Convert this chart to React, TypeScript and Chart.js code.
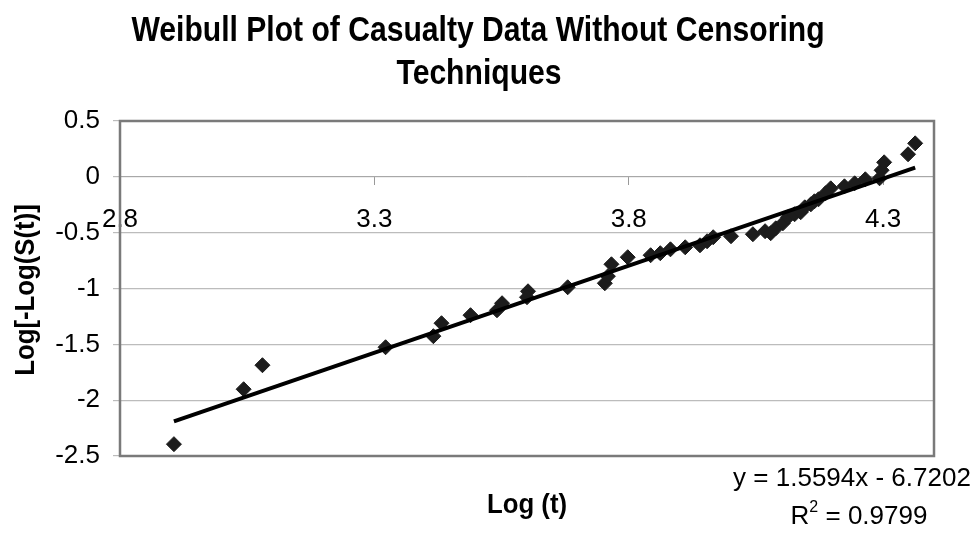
import React, { useEffect, useRef } from 'react';
import { Chart, registerables } from 'chart.js';

Chart.register(...registerables);

const titleLines = ['Weibull Plot of Casualty Data Without Censoring', 'Techniques'];
const xAxisTitle = 'Log (t)';
const yAxisTitle = 'Log[-Log(S(t)]';
const equationText = 'y = 1.5594x - 6.7202';
const r2Value = '0.9799';

const logT = [
  2.906, 3.043, 3.08, 3.322, 3.416, 3.432, 3.489, 3.541, 3.551, 3.602,
  3.6, 3.68, 3.753, 3.759, 3.766, 3.798, 3.843, 3.862, 3.882, 3.911,
  3.94, 3.954, 3.966, 4.001, 4.044, 4.068, 4.079, 4.089, 4.103, 4.113,
  4.126, 4.138, 4.146, 4.158, 4.165, 4.173, 4.187, 4.197, 4.224, 4.244,
  4.265, 4.293, 4.297, 4.302, 4.349, 4.363,
];
const logLogS = [
  -2.394, -1.902, -1.687, -1.526, -1.427, -1.311, -1.239, -1.195, -1.132, -1.025,
  -1.078, -0.989, -0.953, -0.89, -0.783, -0.72, -0.702, -0.684, -0.649, -0.631,
  -0.613, -0.577, -0.541, -0.532, -0.514, -0.487, -0.505, -0.461, -0.416, -0.362,
  -0.335, -0.317, -0.273, -0.246, -0.219, -0.201, -0.147, -0.103, -0.085, -0.058,
  -0.022, -0.013, 0.059, 0.13, 0.202, 0.3,
];
const trendX = [2.906, 4.363];
const trendY = [-2.19, 0.083];

const xTicks = [2.8, 3.3, 3.8, 4.3];
const yTicks = [0.5, 0, -0.5, -1, -1.5, -2, -2.5];

const FONT = '"Liberation Sans", Arial, Helvetica, sans-serif';

function drawCondensed(ctx: any, text: string, cx: number, baseline: number, sx: number) {
  ctx.save();
  ctx.translate(cx, baseline);
  ctx.scale(sx, 1);
  ctx.fillText(text, 0, 0);
  ctx.restore();
}

const textPlugin = {
  id: 'customTexts',
  beforeDatasetsDraw(chart: any) {
    const { ctx, chartArea } = chart;
    ctx.save();
    ctx.strokeStyle = '#7a7a7a';
    ctx.lineWidth = 2.5;
    ctx.strokeRect(chartArea.left, chartArea.top, chartArea.right - chartArea.left, chartArea.bottom - chartArea.top);
    ctx.restore();
  },
  afterDraw(chart: any) {
    const { ctx } = chart;
    ctx.save();
    ctx.fillStyle = '#000';
    ctx.textBaseline = 'alphabetic';
    ctx.textAlign = 'center';
    ctx.font = `bold 35px ${FONT}`;
    drawCondensed(ctx, titleLines[0], 478, 41, 0.86);
    drawCondensed(ctx, titleLines[1], 479, 84, 0.86);

    ctx.font = `bold 28px ${FONT}`;
    drawCondensed(ctx, xAxisTitle, 527, 513, 0.92);
    ctx.save();
    ctx.translate(34, 290);
    ctx.rotate(-Math.PI / 2);
    ctx.scale(0.92, 1);
    ctx.fillText(yAxisTitle, 0, 0);
    ctx.restore();

    ctx.font = `26px ${FONT}`;
    ctx.fillText(equationText, 852, 486);

    const partA = 'R';
    const partB = ` = ${r2Value}`;
    ctx.font = `26px ${FONT}`;
    const wA = ctx.measureText(partA).width;
    const wB = ctx.measureText(partB).width;
    ctx.font = `16px ${FONT}`;
    const wS = ctx.measureText('2').width;
    const total = wA + wS + wB;
    let x = 859 - total / 2;
    ctx.textAlign = 'left';
    ctx.font = `26px ${FONT}`;
    ctx.fillText(partA, x, 524);
    x += wA;
    ctx.font = `16px ${FONT}`;
    ctx.fillText('2', x, 512);
    x += wS;
    ctx.font = `26px ${FONT}`;
    ctx.fillText(partB, x, 524);
    ctx.restore();
  },
};

export default function App() {
  const canvasRef = useRef<HTMLCanvasElement | null>(null);

  useEffect(() => {
    if (!canvasRef.current) return;
    const points = logT.map((x, i) => ({ x, y: logLogS[i] }));
    const trend = trendX.map((x, i) => ({ x, y: trendY[i] }));
    const chart = new Chart(canvasRef.current, {
      type: 'scatter',
      data: {
        datasets: [
          {
            label: 'Linear fit',
            data: trend,
            showLine: true,
            borderColor: '#000',
            borderWidth: 4,
            pointRadius: 0,
            fill: false,
          } as any,
          {
            label: 'Log[-Log(S(t)]',
            data: points,
            pointStyle: 'rectRot',
            pointRadius: 7.5,
            backgroundColor: '#1c1c1c',
            borderColor: '#1c1c1c',
            borderWidth: 1,
            showLine: false,
          },
        ],
      },
      options: {
        responsive: false,
        maintainAspectRatio: false,
        devicePixelRatio: 1,
        animation: false,
        layout: { padding: { top: 121, right: 46, bottom: 77, left: 0 } },
        plugins: {
          legend: { display: false },
          tooltip: { enabled: false },
          title: { display: false },
        },
        scales: {
          x: {
            type: 'linear',
            min: 2.8,
            max: 4.4,
            position: { y: 0 } as any,
            afterBuildTicks: (s: any) => {
              s.ticks = xTicks.map((v) => ({ value: v }));
            },
            ticks: {
              autoSkip: false,
              maxRotation: 0,
              padding: 19,
              color: '#000',
              font: { family: FONT, size: 26 },
              callback: (v: any) => Number(v).toFixed(1),
            },
            grid: {
              display: true,
              drawOnChartArea: false,
              drawTicks: true,
              tickLength: 8,
              color: '#999',
            },
            border: { display: true, color: '#a8a8a8', width: 1 },
          },
          y: {
            type: 'linear',
            min: -2.5,
            max: 0.5,
            position: 'left',
            afterFit: (s: any) => {
              s.width = 120;
            },
            afterBuildTicks: (s: any) => {
              s.ticks = yTicks.map((v) => ({ value: v }));
            },
            ticks: {
              padding: 13,
              color: '#000',
              font: { family: FONT, size: 26 },
              callback: (v: any) => String(Number(v)),
            },
            grid: {
              color: '#bcbcbc',
              lineWidth: 1.2,
              drawTicks: true,
              tickLength: 7,
            },
            border: { display: false },
          },
        },
      },
      plugins: [textPlugin],
    });
    return () => chart.destroy();
  }, []);

  return (
    <div style={{ position: 'absolute', left: 0, top: 0, width: 980, height: 533, background: '#fff' }}>
      <canvas ref={canvasRef} width={980} height={533} style={{ width: 980, height: 533, display: 'block' }} />
    </div>
  );
}
